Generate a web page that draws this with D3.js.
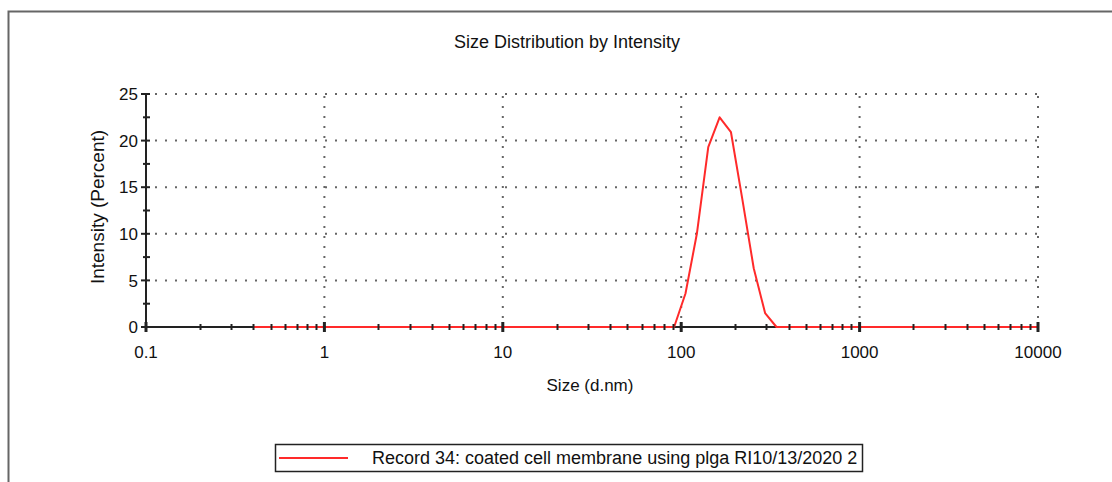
<!DOCTYPE html>
<html>
<head>
<meta charset="utf-8">
<script src="https://cdn.jsdelivr.net/npm/d3@7"></script>
<style>
  body { margin: 0; background: #fff; }
  text { font-family: "Liberation Sans", Arial, sans-serif; fill: #111; }
</style>
</head>
<body>
<div id="chart"></div>
<script>
// size bins (d.nm), standard 70 bin grid
var sizes = [0.4, 0.4632, 0.5365, 0.6213, 0.7195, 0.8332, 0.9649,
  1.117, 1.294, 1.499, 1.736, 2.010, 2.328, 2.696, 3.122, 3.615, 4.187, 4.849, 5.615, 6.503, 7.531, 8.721,
  10.10, 11.70, 13.54, 15.69, 18.17, 21.04, 24.36, 28.21, 32.67, 37.84, 43.82, 50.75, 58.77, 68.06, 78.82, 91.28,
  105.7, 122.4, 141.8, 164.2, 190.1, 220.2, 255.0, 295.3, 342.0, 396.1, 458.7, 531.2, 615.1, 712.4, 825.0, 955.4,
  1106, 1281, 1484, 1718, 1990, 2305, 2669, 3091, 3580, 4145, 4801, 5560, 6439, 7456, 8635, 10000];

// intensity (%)
var intensity = [0, 0, 0, 0, 0, 0, 0,
  0, 0, 0, 0, 0, 0, 0, 0, 0, 0, 0, 0, 0, 0, 0,
  0, 0, 0, 0, 0, 0, 0, 0, 0, 0, 0, 0, 0, 0, 0, 0,
  3.6, 10.0, 19.3, 22.5, 20.9, 13.7, 6.3, 1.5, 0, 0, 0, 0, 0, 0, 0, 0,
  0, 0, 0, 0, 0, 0, 0, 0, 0, 0, 0, 0, 0, 0, 0, 0];

var xTicks = [0.1, 1, 10, 100, 1000, 10000];
var xTickLabels = ["0.1", "1", "10", "100", "1000", "10000"];
var yTicks = [0, 5, 10, 15, 20, 25];
var yMinor = [2.5, 7.5, 12.5, 17.5, 22.5];

var title = "Size Distribution by Intensity";
var xTitle = "Size (d.nm)";
var yTitle = "Intensity (Percent)";
var legendLabel = "Record 34: coated cell membrane using plga RI10/13/2020 2";

var W = 1112, H = 482;
var margin = {top: 94, left: 146, right: 74, bottom: 155};
var width = W - margin.left - margin.right,
    height = H - margin.top - margin.bottom;

var svg = d3.select("#chart").append("svg")
    .attr("width", W)
    .attr("height", H);

// outer frame (right and bottom edges are off the picture)
svg.append("path")
    .attr("d", "M8.5," + H + "L8.5,11.5L" + W + ",11.5")
    .attr("fill", "none")
    .attr("stroke", "#666")
    .attr("stroke-width", 2);

svg.append("text")
    .attr("x", 567)
    .attr("y", 48)
    .attr("text-anchor", "middle")
    .style("font-size", "18px")
    .text(title);

var g = svg.append("g")
    .attr("transform", "translate(" + margin.left + "," + margin.top + ")");

var x = d3.scaleLog()
    .domain([0.1, 10000])
    .range([0, width]);

var y = d3.scaleLinear()
    .domain([0, 25])
    .range([height, 0]);

// dotted grid
g.selectAll(".hgrid")
    .data(yTicks.slice(1))
    .enter().append("line")
    .attr("class", "hgrid")
    .attr("x1", 9)
    .attr("x2", width)
    .attr("y1", d => y(d))
    .attr("y2", d => y(d))
    .attr("stroke", "#666")
    .attr("stroke-width", 2)
    .attr("stroke-dasharray", "2,8");

g.selectAll(".vgrid")
    .data(xTicks.slice(1))
    .enter().append("line")
    .attr("class", "vgrid")
    .attr("x1", d => x(d))
    .attr("x2", d => x(d))
    .attr("y1", height - 9)
    .attr("y2", 0)
    .attr("stroke", "#666")
    .attr("stroke-width", 2)
    .attr("stroke-dasharray", "2,8");

// axis lines
g.append("line")
    .attr("x1", 0).attr("x2", width)
    .attr("y1", height).attr("y2", height)
    .attr("stroke", "#222").attr("stroke-width", 2);
g.append("line")
    .attr("x1", 0).attr("x2", 0)
    .attr("y1", 0).attr("y2", height)
    .attr("stroke", "#222").attr("stroke-width", 2);

// the record
var line = d3.line()
    .x((d, i) => x(sizes[i]))
    .y(d => y(d));

g.append("path")
    .datum(intensity)
    .attr("fill", "none")
    .attr("stroke", "#ff2a2a")
    .attr("stroke-width", 2)
    .attr("stroke-linejoin", "round")
    .attr("d", line);

// x ticks (drawn over the curve)
var minorX = x.ticks().filter(d => xTicks.indexOf(d) < 0);
g.selectAll(".xminor")
    .data(minorX)
    .enter().append("line")
    .attr("x1", d => Math.round(x(d)) + 0.5)
    .attr("x2", d => Math.round(x(d)) + 0.5)
    .attr("y1", height - 3)
    .attr("y2", height + 3)
    .attr("stroke", "#222")
    .attr("stroke-width", 2);

g.selectAll(".xmajor")
    .data(xTicks)
    .enter().append("line")
    .attr("x1", d => x(d))
    .attr("x2", d => x(d))
    .attr("y1", height - 5)
    .attr("y2", height + 5)
    .attr("stroke", "#222")
    .attr("stroke-width", 3);

g.selectAll(".xlabel")
    .data(xTicks)
    .enter().append("text")
    .attr("x", d => x(d))
    .attr("y", height + 31)
    .attr("text-anchor", "middle")
    .style("font-size", "17px")
    .text((d, i) => xTickLabels[i]);

// y ticks
g.selectAll(".ymajor")
    .data(yTicks)
    .enter().append("line")
    .attr("x1", -5).attr("x2", 4)
    .attr("y1", d => y(d)).attr("y2", d => y(d))
    .attr("stroke", "#222").attr("stroke-width", 2);

g.selectAll(".yminor")
    .data(yMinor)
    .enter().append("line")
    .attr("x1", -3).attr("x2", 4)
    .attr("y1", d => y(d)).attr("y2", d => y(d))
    .attr("stroke", "#222").attr("stroke-width", 2);

g.selectAll(".ylabel")
    .data(yTicks)
    .enter().append("text")
    .attr("x", -8)
    .attr("y", d => y(d))
    .attr("dy", "0.36em")
    .attr("text-anchor", "end")
    .style("font-size", "17px")
    .text(d => d);

// axis titles
svg.append("text")
    .attr("x", 590)
    .attr("y", 391)
    .attr("text-anchor", "middle")
    .style("font-size", "17px")
    .text(xTitle);

svg.append("text")
    .attr("transform", "translate(104,207) rotate(-90)")
    .attr("text-anchor", "middle")
    .style("font-size", "19px")
    .text(yTitle);

// legend
var legend = svg.append("g").attr("transform", "translate(275,444)");
legend.append("rect")
    .attr("x", 0.5).attr("y", 0.5)
    .attr("width", 587).attr("height", 27)
    .attr("fill", "#fff")
    .attr("stroke", "#222")
    .attr("stroke-width", 1.5);
legend.append("line")
    .attr("x1", 4).attr("x2", 73)
    .attr("y1", 14).attr("y2", 14)
    .attr("stroke", "#ff2a2a")
    .attr("stroke-width", 2);
legend.append("text")
    .attr("x", 97)
    .attr("y", 20)
    .style("font-size", "18px")
    .text(legendLabel);
</script>
</body>
</html>
